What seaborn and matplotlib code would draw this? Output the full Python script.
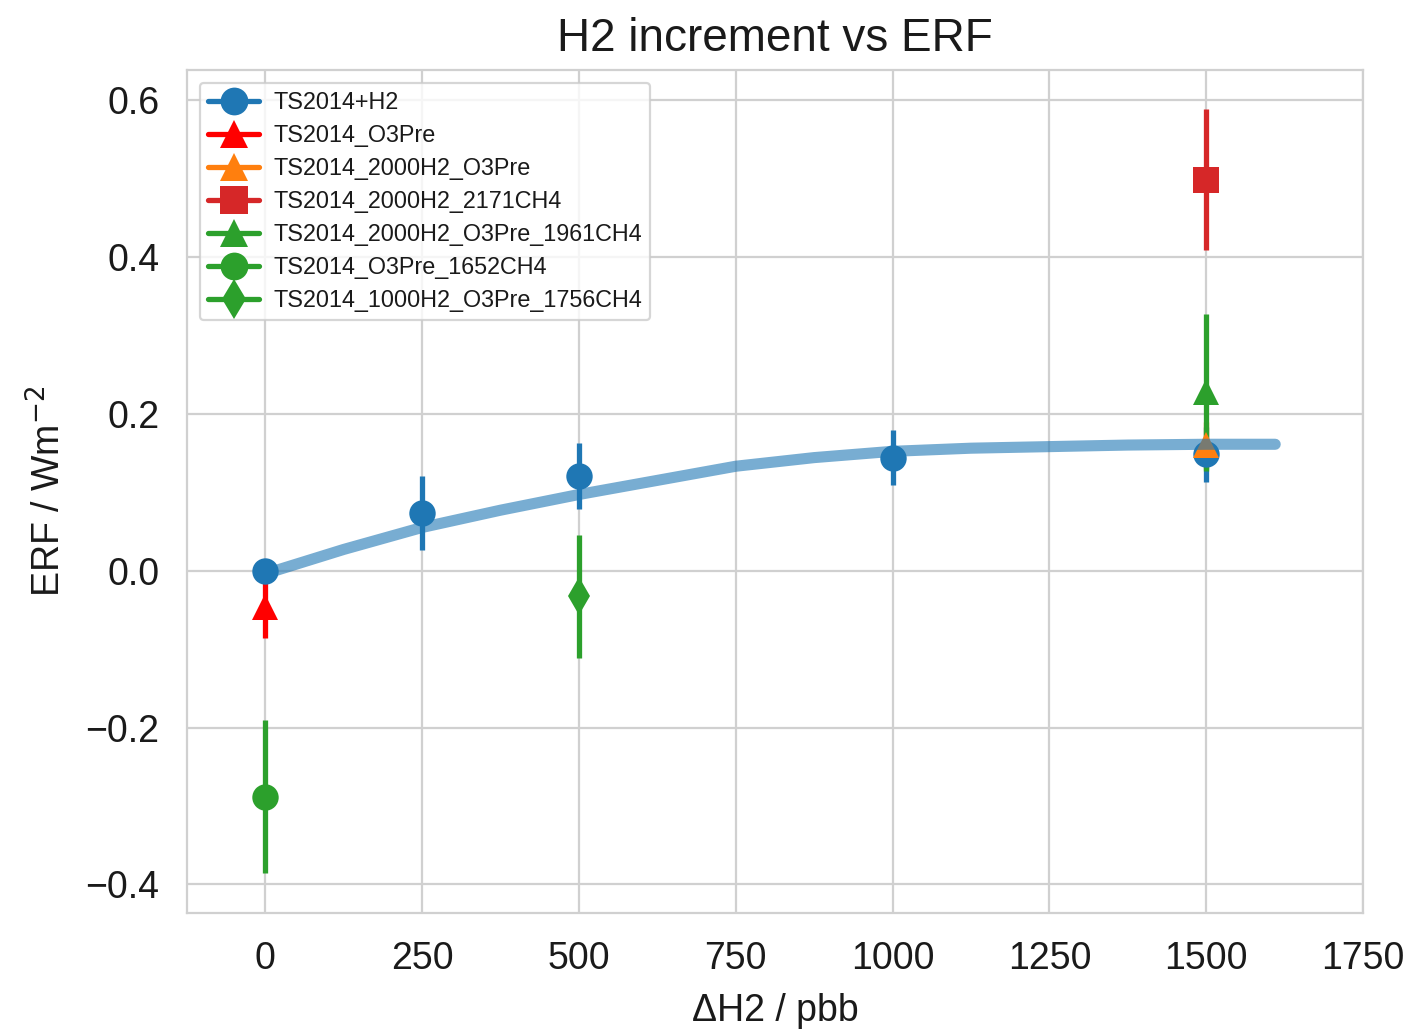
import numpy as np
import pandas as pd
import seaborn as sns
import matplotlib.pyplot as plt
from matplotlib.lines import Line2D

sns.set_theme(style="whitegrid")
plt.rcParams["font.family"] = ["Liberation Sans", "DejaVu Sans"]

# Experiments: H2 increment (ppb), ERF (W m-2) and its uncertainty
labels = ["TS2014+H2", "TS2014_O3Pre", "TS2014_2000H2_O3Pre",
          "TS2014_2000H2_2171CH4", "TS2014_2000H2_O3Pre_1961CH4",
          "TS2014_O3Pre_1652CH4", "TS2014_1000H2_O3Pre_1756CH4"]
colors = ["#1f77b4", "#ff0000", "#ff7f0e", "#d62728", "#2ca02c", "#2ca02c", "#2ca02c"]
markers = ["o", "^", "^", "s", "^", "o", "d"]

h2_base = [0, 250, 500, 1000, 1500]
erf_base = [0.0, 0.073, 0.121, 0.144, 0.148]
err_base = [0.0, 0.047, 0.042, 0.035, 0.035]

h2_other = [[0], [1500], [1500], [1500], [0], [500]]
erf_other = [[-0.046], [0.160], [0.498], [0.227], [-0.288], [-0.033]]
err_other = [[0.040], [0.030], [0.090], [0.100], [0.097], [0.078]]

# Fitted response curve
fit_h2 = [0, 125, 250, 375, 500, 625, 750, 875, 1000, 1125, 1250, 1375, 1500, 1610]
fit_erf = [-0.004, 0.027, 0.055, 0.077, 0.097, 0.115, 0.133, 0.144, 0.152, 0.156, 0.158, 0.160, 0.161, 0.161]

fig = plt.figure(figsize=(14.11, 10.29), dpi=100)
ax = fig.add_axes([0.1325, 0.113, 0.8335, 0.819])

ms = 19
elw = 3.8

all_x = [h2_base] + h2_other
all_y = [erf_base] + erf_other
all_e = [err_base] + err_other
for x, y, e, c, m in zip(all_x, all_y, all_e, colors, markers):
    ax.errorbar(x, y, yerr=e, fmt=m, color=c, ms=ms, elinewidth=elw,
                capsize=0, markeredgewidth=0, zorder=3)

fit_df = pd.DataFrame({"h2": fit_h2, "erf": fit_erf})
sns.lineplot(data=fit_df, x="h2", y="erf", ax=ax, color="#1f77b4",
             alpha=0.6, linewidth=8, zorder=4)

ax.set_xlim(-125, 1750)
ax.set_ylim(-0.436, 0.638)
ax.set_xticks([0, 250, 500, 750, 1000, 1250, 1500, 1750])
ax.set_yticks([-0.4, -0.2, 0.0, 0.2, 0.4, 0.6])
ax.tick_params(labelsize=27, pad=14, colors="#1a1a1a")
ax.grid(True, color="#d0d0d0", linewidth=1.6)
for s in ax.spines.values():
    s.set_color("#d0d0d0")
    s.set_linewidth(1.6)

ax.set_title("H2 increment vs ERF", fontsize=33, pad=14, color="#1a1a1a")
ax.set_xlabel("ΔH2 / pbb", fontsize=27, labelpad=12, color="#1a1a1a")
ax.set_ylabel("ERF / Wm$^{-2}$", fontsize=27, labelpad=12, color="#1a1a1a")

handles = [Line2D([], [], color=c, marker=m, ms=ms + 1, lw=elw, markeredgewidth=0)
           for c, m in zip(colors, markers)]
leg = ax.legend(handles, labels, loc="upper left", fontsize=16.8, frameon=True,
                borderaxespad=0.55, handlelength=2.2, labelspacing=0.43,
                handletextpad=0.6, borderpad=0.35)
leg.get_frame().set_edgecolor("#cccccc")
leg.get_frame().set_linewidth(1.6)
for t in leg.get_texts():
    t.set_color("#1a1a1a")

fig.savefig("out.png", dpi=100)
